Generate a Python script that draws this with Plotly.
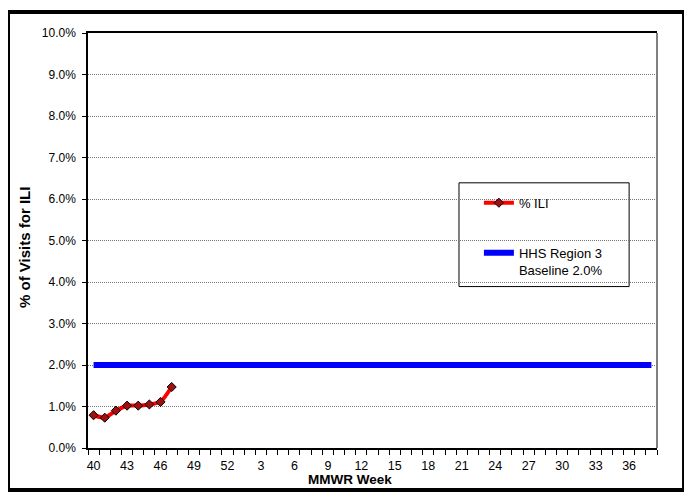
import plotly.graph_objects as go

# MMWR weeks, season runs week 40 through week 38 of next year
weeks = list(range(40, 53)) + list(range(1, 39))
ili_pct = [0.79, 0.73, 0.90, 1.02, 1.02, 1.05, 1.11, 1.47]
baseline_pct = [2.0] * len(weeks)

x_idx = list(range(len(weeks)))
tick_idx = x_idx[::3]
tick_txt = [str(weeks[i]) for i in tick_idx]

fig = go.Figure()

fig.add_trace(go.Scatter(
    x=x_idx[:len(ili_pct)], y=[v / 100 for v in ili_pct],
    mode="lines+markers", name="% ILI", legendgroup="a",
    line=dict(color="#ff0000", width=4, shape="spline", smoothing=0.5),
    marker=dict(symbol="diamond", size=7, color="#a01010",
                line=dict(color="black", width=1)),
))
fig.add_trace(go.Scatter(
    x=x_idx, y=[v / 100 for v in baseline_pct],
    mode="lines", name="HHS Region 3<br>Baseline 2.0%", legendgroup="b",
    line=dict(color="#0000ff", width=6),
))

# page body adds an 8px offset, so margins are pulled in by that amount
fig.update_layout(
    width=692, height=501,
    margin=dict(l=80, r=43, t=25, b=61),
    paper_bgcolor="white", plot_bgcolor="white",
    font=dict(family="Liberation Sans, Arial", size=12, color="black"),
    legend=dict(x=0.687, y=0.627, xanchor="left", yanchor="top",
                bgcolor="rgba(0,0,0,0)", tracegroupgap=30, valign="top",
                font=dict(size=13), itemwidth=30),
    shapes=[
        dict(type="rect", xref="paper", yref="paper",
             x0=0.652, x1=0.951, y0=0.389, y1=0.639,
             line=dict(color="black", width=1), fillcolor="white", layer="below"),
        dict(type="line", xref="paper", yref="paper",
             x0=1, x1=1, y0=0, y1=1, line=dict(color="#808080", width=2)),
        dict(type="rect", xref="paper", yref="paper",
             x0=-0.1406, x1=1.0475, y0=-0.1012, y1=1.0506,
             line=dict(color="black", width=4)),
    ],
    annotations=[
        dict(text="<b>MMWR Week</b>", xref="paper", yref="paper",
             x=0.4605, y=-0.0771, xanchor="center", yanchor="middle",
             showarrow=False, font=dict(size=13.5)),
        dict(text="<b>% of Visits for ILI</b>", xref="paper", yref="paper",
             x=-0.1107, y=0.482, xanchor="center", yanchor="middle",
             textangle=-90, showarrow=False, font=dict(size=15)),
    ],
)

fig.update_xaxes(
    range=[-0.5, len(weeks) - 0.5], automargin=False,
    tickvals=tick_idx, ticktext=tick_txt, ticks="", ticklabelstandoff=5,
    showgrid=False, zeroline=False,
    showline=True, linecolor="black", linewidth=1.5, mirror=True,
    minor=dict(tickmode="linear", tick0=-0.5, dtick=1, ticks="outside",
               ticklen=5, tickcolor="black", showgrid=False),
    tickfont=dict(size=12.5),
)
fig.update_yaxes(
    range=[0, 0.10], dtick=0.01, tickformat=".1%", automargin=False,
    ticks="outside", ticklen=4, tickcolor="black", ticklabelstandoff=4,
    showgrid=True, gridcolor="#777777", griddash="1px,1px", gridwidth=1,
    zeroline=False, showline=True, linecolor="black", linewidth=1.5,
    tickfont=dict(size=12),
)

fig.write_html("out.html")
